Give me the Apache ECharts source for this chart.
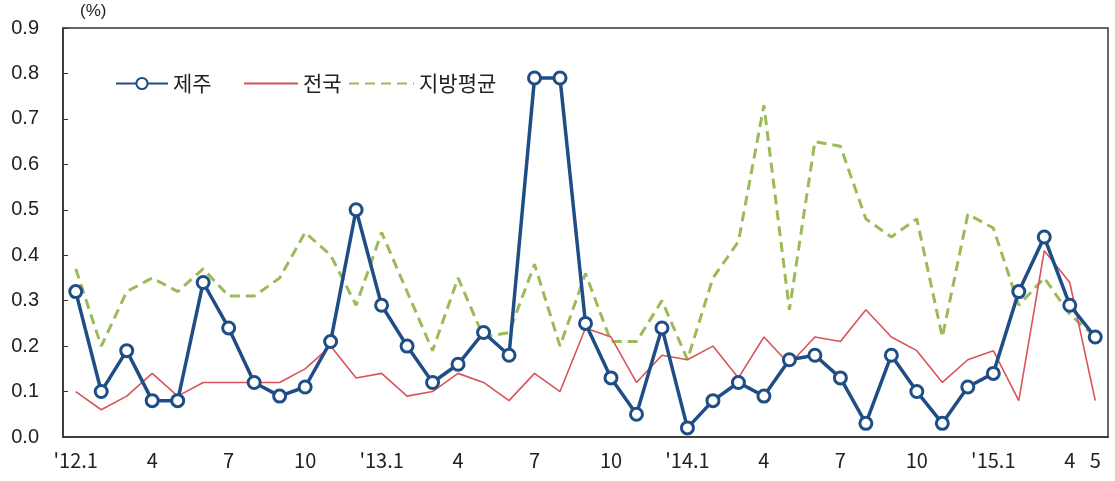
<!DOCTYPE html>
<html>
<head>
<meta charset="utf-8">
<script src="https://cdn.jsdelivr.net/npm/echarts@6/dist/echarts.min.js"></script>
<style>
html,body{margin:0;padding:0;background:#fff;}
#chart{width:1115px;height:481px;}
</style>
</head>
<body>
<div id="chart"></div>
<script>
const categories = ["'12.1","2","3","4","5","6","7","8","9","10","11","12",
  "'13.1","2","3","4","5","6","7","8","9","10","11","12",
  "'14.1","2","3","4","5","6","7","8","9","10","11","12",
  "'15.1","2","3","4","5"];
const jeju = [0.32,0.10,0.19,0.08,0.08,0.34,0.24,0.12,0.09,0.11,0.21,0.50,
  0.29,0.20,0.12,0.16,0.23,0.18,0.79,0.79,0.25,0.13,0.05,0.24,
  0.02,0.08,0.12,0.09,0.17,0.18,0.13,0.03,0.18,0.10,0.03,0.11,
  0.14,0.32,0.44,0.29,0.22];
const national = [0.10,0.06,0.09,0.14,0.09,0.12,0.12,0.12,0.12,0.15,0.20,0.13,
  0.14,0.09,0.10,0.14,0.12,0.08,0.14,0.10,0.24,0.22,0.12,0.18,
  0.17,0.20,0.13,0.22,0.16,0.22,0.21,0.28,0.22,0.19,0.12,0.17,
  0.19,0.08,0.41,0.34,0.08];
const provincial = [0.37,0.20,0.32,0.35,0.32,0.37,0.31,0.31,0.35,0.45,0.40,0.29,
  0.45,0.32,0.19,0.35,0.22,0.23,0.38,0.20,0.36,0.21,0.21,0.30,
  0.17,0.35,0.43,0.73,0.28,0.65,0.64,0.48,0.44,0.48,0.22,0.49,
  0.46,0.29,0.35,0.27,0.22];
const seriesNames = ['제주','전국','지방평균'];

const legendText = {fontFamily: 'Noto Sans CJK KR', fontSize: 21, color: '#222'};
function mkLegend(name, left, width, hideSymbol) {
  const item = {name: name};
  if (hideSymbol) item.itemStyle = {opacity: 0};
  return {
    data: [item], left: left, top: 68,
    itemWidth: width, itemHeight: 14, itemGap: 0,
    textStyle: legendText, selectedMode: false
  };
}

const chart = echarts.init(document.getElementById('chart'));
chart.setOption({
  animation: false,
  backgroundColor: '#fff',
  grid: {left: 63, top: 28, right: 7, bottom: 44, show: true, borderColor: '#333', borderWidth: 1.5},
  legend: [
    mkLegend(seriesNames[0], 110, 52, false),
    mkLegend(seriesNames[1], 238, 54, true),
    mkLegend(seriesNames[2], 343, 65, true)
  ],
  graphic: [{
    type: 'text', left: 80, top: 3,
    style: {text: '(%)', fontFamily: 'Liberation Sans', fontSize: 17, fill: '#222'}
  }],
  xAxis: {
    type: 'category', data: categories, boundaryGap: true,
    axisLine: {lineStyle: {color: '#333', width: 1.5}},
    axisTick: {show: false},
    axisLabel: {
      interval: function (i) { return i % 3 === 0 || i === categories.length - 1; },
      fontFamily: 'Noto Sans CJK KR', fontSize: 20, color: '#222', margin: 13
    }
  },
  yAxis: {
    type: 'value', min: 0, max: 0.9, interval: 0.1,
    axisLine: {show: true, lineStyle: {color: '#333', width: 1.5}},
    axisTick: {show: true, inside: true, length: 5, lineStyle: {color: '#333'}},
    splitLine: {show: false},
    axisLabel: {
      formatter: function (v) { return v.toFixed(1); },
      fontFamily: 'Liberation Sans', fontSize: 20, color: '#222', margin: 24
    }
  },
  series: [
    {
      name: '지방평균', type: 'line', data: provincial, symbol: 'none', z: 2,
      lineStyle: {color: '#9BBB59', width: 3, type: [10, 6]},
      itemStyle: {color: '#9BBB59'}
    },
    {
      name: '전국', type: 'line', data: national, symbol: 'none', z: 3,
      lineStyle: {color: '#D9545A', width: 1.6},
      itemStyle: {color: '#D9545A'}
    },
    {
      name: '제주', type: 'line', data: jeju, symbol: 'circle', symbolSize: 12, showAllSymbol: true, z: 4,
      lineStyle: {color: '#1F4E86', width: 3.5},
      itemStyle: {color: '#fff', borderColor: '#1F4E86', borderWidth: 3}
    }
  ]
});
</script>
</body>
</html>
